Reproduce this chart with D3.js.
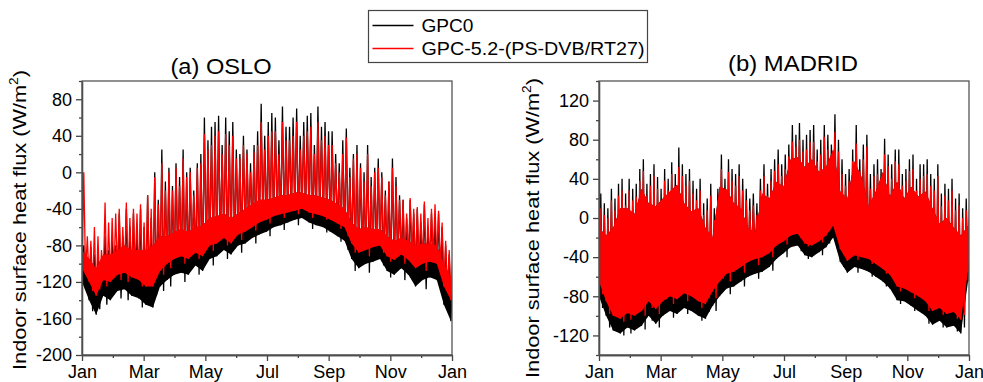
<!DOCTYPE html>
<html>
<head>
<meta charset="utf-8">
<script src="https://cdn.jsdelivr.net/npm/d3@7"></script>
<style>
  body { margin: 0; background: #fff; }
  text { font-family: Arial, "Liberation Sans", sans-serif; fill: #000; }
</style>
</head>
<body>
<script>
// weekly samples (hour 0, 168, 336 ...):
// Lo / Lo2 = troughs, Band = top of the dense band, Hi / Hi2 = the two largest spikes of the week
const monthLabels = ['Jan', 'Mar', 'May', 'Jul', 'Sep', 'Nov', 'Jan'];
const seriesNames = ['GPC0', 'GPC-5.2-(PS-DVB/RT27)'];

const osloGpc0Lo = [-120, -140, -156, -135, -140, -130, -128, -135, -138, -145, -148, -125, -118, -112, -110, -112, -102, -108, -95, -92, -85, -90, -80, -78, -72, -68, -65, -60, -58, -55, -52, -50, -55, -58, -60, -65, -70, -75, -95, -105, -100, -98, -95, -108, -112, -105, -112, -125, -118, -115, -118, -145, -163];
const osloGpc0Lo2 = [-128, -152, -150, -145, -132, -138, -140, -128, -148, -140, -135, -130, -125, -105, -120, -105, -112, -100, -102, -85, -95, -84, -88, -72, -78, -64, -70, -56, -63, -52, -58, -48, -62, -52, -66, -60, -76, -85, -108, -100, -110, -92, -102, -115, -105, -118, -110, -120, -128, -110, -125, -150, -160];
const osloGpc0Hi = [-80, -82, -88, -70, -75, -45, -40, -45, -40, -25, 0, 25, 5, 10, 25, 5, 10, 60, 50, 62, 60, 55, 20, 25, 30, 75, 55, 60, 72, 50, 70, 55, 65, 72, 55, 45, 10, 48, 20, 10, 30, 5, 0, -10, -5, -30, -30, -40, -35, -45, -45, -80, -95];
const osloGpc0Hi2 = [-95, -90, -100, -85, -80, -70, -60, -65, -60, -50, -30, -10, -15, -5, 0, -20, 20, 35, 55, 30, 45, 25, 40, 10, 45, 40, 65, 35, 50, 60, 40, 62, 30, 50, 45, 20, 35, 5, 30, 0, -5, 15, -20, 15, -25, -50, -45, -55, -60, -50, -60, -90, -110];
const osloGpcLo = [-105, -120, -135, -118, -120, -112, -110, -115, -118, -125, -125, -108, -100, -95, -92, -95, -88, -92, -80, -78, -72, -78, -68, -65, -60, -55, -52, -48, -46, -44, -42, -40, -44, -46, -48, -52, -56, -60, -78, -88, -85, -82, -80, -92, -96, -90, -96, -105, -100, -98, -100, -125, -140];
const osloGpcLo2 = [-112, -130, -128, -125, -112, -118, -120, -108, -125, -118, -115, -112, -105, -90, -100, -88, -95, -85, -86, -72, -80, -70, -74, -60, -64, -50, -56, -45, -50, -40, -46, -38, -50, -42, -52, -48, -62, -70, -88, -82, -92, -76, -88, -98, -90, -100, -94, -102, -108, -94, -106, -130, -135];
const osloGpcHi = [0, -75, -70, -33, -50, -40, -33, -40, -35, -25, -5, 10, 0, 5, 15, 0, 5, 42, 30, 45, 42, 40, 15, 20, 22, 55, 40, 45, 55, 35, 55, 40, 50, 55, 40, 30, 0, 38, 15, 5, 20, 0, -5, -10, -15, -30, -28, -38, -32, -40, -42, -75, -90];
const osloGpcHi2 = [-70, -60, -85, -55, -45, -60, -50, -45, -55, -40, -35, -20, -20, -15, -5, -25, 10, 25, 40, 20, 30, 15, 30, 0, 30, 25, 45, 20, 35, 40, 25, 45, 20, 35, 30, 10, 20, -5, 20, -10, -15, 5, -25, 5, -30, -45, -40, -45, -50, -35, -55, -85, -100];
const osloBand = [-85, -95, -105, -90, -90, -85, -80, -85, -85, -85, -80, -70, -70, -65, -62, -65, -60, -58, -50, -48, -45, -50, -45, -40, -35, -30, -30, -28, -25, -25, -22, -22, -25, -25, -28, -30, -35, -40, -55, -62, -60, -62, -62, -70, -75, -72, -75, -80, -78, -78, -80, -100, -115];

const madridGpc0Lo = [-80, -100, -115, -118, -112, -115, -110, -100, -108, -100, -95, -98, -92, -95, -100, -103, -90, -80, -72, -70, -65, -60, -57, -55, -50, -42, -36, -30, -28, -38, -40, -35, -30, -20, -45, -56, -50, -52, -55, -60, -65, -72, -84, -85, -90, -95, -100, -109, -105, -112, -110, -118, -65];
const madridGpc0Lo2 = [-92, -112, -108, -120, -118, -108, -114, -105, -112, -96, -102, -92, -98, -88, -105, -96, -95, -75, -78, -64, -70, -55, -62, -50, -54, -38, -40, -25, -34, -42, -34, -38, -26, -30, -50, -50, -56, -48, -60, -56, -70, -68, -88, -80, -95, -90, -108, -102, -112, -106, -116, -112, -90];
const madridGpc0Hi = [25, 10, 20, 40, 40, 35, 60, 45, 42, 50, 57, 72, 45, 38, 40, 20, 10, 65, 60, 45, 40, 20, 15, 55, 50, 70, 65, 95, 97, 85, 95, 80, 85, 106, 60, 50, 95, 75, 45, 60, 81, 55, 70, 50, 65, 55, 60, 40, 25, 30, 20, 10, 25];
const madridGpc0Hi2 = [15, 30, 35, 25, 30, 50, 35, 55, 30, 40, 45, 55, 50, 30, 15, 35, 30, 40, 50, 55, 30, 25, 40, 35, 60, 55, 75, 85, 80, 90, 70, 95, 75, 80, 45, 70, 60, 85, 55, 50, 65, 70, 45, 60, 40, 55, 45, 55, 35, 40, 25, 20, 15];
const madridGpcLo = [-65, -85, -100, -103, -97, -100, -95, -85, -93, -85, -80, -83, -77, -80, -85, -88, -75, -65, -57, -55, -50, -45, -42, -40, -36, -28, -24, -18, -16, -26, -28, -24, -18, -8, -32, -44, -38, -40, -42, -47, -52, -58, -70, -72, -76, -80, -85, -95, -92, -98, -96, -104, -55];
const madridGpcLo2 = [-78, -98, -95, -106, -104, -95, -100, -92, -98, -83, -88, -78, -85, -75, -92, -82, -82, -62, -65, -50, -56, -42, -48, -37, -40, -25, -27, -12, -21, -29, -21, -25, -13, -17, -37, -37, -43, -35, -47, -43, -57, -55, -75, -67, -82, -77, -95, -89, -99, -93, -103, -99, -77];
const madridGpcHi = [10, 0, 8, 28, 28, 22, 48, 33, 30, 38, 45, 52, 33, 25, 28, 8, -2, 50, 47, 33, 28, 8, 3, 43, 38, 55, 50, 78, 80, 70, 78, 65, 70, 88, 45, 38, 76, 60, 30, 45, 65, 40, 55, 38, 50, 40, 45, 28, 12, 18, 8, 0, 10];
const madridGpcHi2 = [3, 18, 23, 13, 18, 38, 23, 43, 18, 28, 33, 43, 38, 18, 3, 23, 18, 28, 38, 43, 18, 13, 28, 23, 48, 43, 63, 73, 68, 78, 58, 83, 63, 68, 33, 58, 48, 73, 43, 38, 53, 58, 33, 48, 28, 43, 33, 43, 23, 28, 13, 8, 3];
const madridBand = [-10, -18, -10, 10, 10, 4, 30, 15, 12, 20, 27, 34, 15, 7, 10, -10, -20, 32, 29, 15, 10, -10, -15, 25, 20, 37, 32, 60, 62, 52, 60, 47, 52, 70, 27, 20, 58, 42, 12, 27, 47, 22, 37, 20, 32, 22, 27, 10, -6, 0, -10, -18, -8];

const weekHours = 168;
const yearHours = 8760;
const colors = ['#000000', '#ff0000'];

const svg = d3.select('body')
  .append('svg')
  .attr('width', 983)
  .attr('height', 382);

const panels = [
  {
    id: 'oslo', left: 82, top: 81, width: 370, height: 274,
    domain: [-200, 100], step: 40, first: -200,
    title: '(a) OSLO', titleX: 221, titleY: 74, titleLen: 101,
    labelX: 26, labelY: 220,
    band: osloBand,
    series: [
      [osloGpc0Lo, osloGpc0Lo2, osloGpc0Hi, osloGpc0Hi2],
      [osloGpcLo, osloGpcLo2, osloGpcHi, osloGpcHi2],
    ],
  },
  {
    id: 'madrid', left: 599, top: 81, width: 370, height: 274,
    domain: [-140, 140], step: 40, first: -120,
    title: '(b) MADRID', titleX: 793, titleY: 71, titleLen: 130,
    labelX: 539, labelY: 228,
    band: madridBand,
    series: [
      [madridGpc0Lo, madridGpc0Lo2, madridGpc0Hi, madridGpc0Hi2],
      [madridGpcLo, madridGpcLo2, madridGpcHi, madridGpcHi2],
    ],
  },
];

const styleAxis = sel => {
  sel.selectAll('path').attr('stroke', '#444').attr('stroke-width', 1.3);
  sel.selectAll('line').attr('stroke', '#444').attr('stroke-width', 1.3);
  sel.selectAll('text').style('font-size', '18px').attr('fill', '#000');
};

panels.forEach(p => {
  const x = d3.scaleLinear().domain([0, yearHours]).range([0, p.width]);
  const y = d3.scaleLinear().domain(p.domain).range([p.height, 0]);

  const g = svg.append('g').attr('transform', `translate(${p.left},${p.top})`);

  g.append('clipPath').attr('id', `clip-${p.id}`)
    .append('rect').attr('width', p.width).attr('height', p.height);

  const plot = g.append('g').attr('clip-path', `url(#clip-${p.id})`);

  const area = d3.area()
    .x((d, i) => x(i * weekHours))
    .y0(d => y(d[0]))
    .y1(d => y(d[1]));

  const line = d3.line()
    .x(d => x(d[0]))
    .y(d => y(d[1]));

  p.series.forEach(([lo, lo2, hi, hi2], k) => {
    plot.append('path')
      .attr('d', area(lo.map((v, i) => [v, p.band[i]])))
      .attr('fill', colors[k]);
    // trough -> spike -> second trough -> second spike -> next trough
    const q = weekHours / 4;
    const pts = lo.flatMap((v, i) => [
      [i * weekHours, v],
      [i * weekHours + q, hi[i]],
      [i * weekHours + 2 * q, lo2[i]],
      [i * weekHours + 3 * q, hi2[i]],
    ]);
    plot.append('path')
      .attr('d', line(pts))
      .attr('fill', 'none')
      .attr('stroke', colors[k])
      .attr('stroke-width', 1.3);
  });

  // axes
  const xMajor = d3.range(0, yearHours + 1, yearHours / 6);
  const xMinor = d3.range(yearHours / 12, yearHours, yearHours / 6);
  const yMajor = d3.range(p.first, p.domain[1] + 1, p.step);
  const yMinor = d3.range(p.domain[0], p.domain[1] + 1, p.step / 2).filter(v => !yMajor.includes(v));

  g.append('g')
    .attr('transform', `translate(0,${p.height})`)
    .call(d3.axisBottom(x).tickValues(xMinor).tickFormat('').tickSize(3).tickSizeOuter(0))
    .call(styleAxis);

  g.append('g')
    .attr('transform', `translate(0,${p.height})`)
    .call(d3.axisBottom(x).tickValues(xMajor).tickFormat((d, i) => monthLabels[i]).tickSize(6).tickSizeOuter(0).tickPadding(4))
    .call(styleAxis);

  g.append('g')
    .call(d3.axisLeft(y).tickValues(yMinor).tickFormat('').tickSize(3).tickSizeOuter(0))
    .call(styleAxis);

  g.append('g')
    .call(d3.axisLeft(y).tickValues(yMajor).tickFormat(d => String(d)).tickSize(6).tickSizeOuter(0).tickPadding(4))
    .call(styleAxis);

  g.append('rect')
    .attr('width', p.width)
    .attr('height', p.height)
    .attr('fill', 'none')
    .attr('stroke', '#555')
    .attr('stroke-width', 1.3);

  svg.append('text')
    .attr('x', p.titleX)
    .attr('y', p.titleY)
    .attr('text-anchor', 'middle')
    .attr('textLength', p.titleLen)
    .attr('lengthAdjust', 'spacingAndGlyphs')
    .style('font-size', '22px')
    .text(p.title);

  const label = svg.append('text')
    .attr('transform', `translate(${p.labelX},${p.labelY}) rotate(-90)`)
    .attr('text-anchor', 'middle')
    .attr('textLength', 300)
    .attr('lengthAdjust', 'spacingAndGlyphs')
    .style('font-size', '19px');
  label.append('tspan').text('Indoor surface heat flux (W/m');
  label.append('tspan').attr('dy', -8).style('font-size', '12px').text('2');
  label.append('tspan').attr('dy', 8).text(')');
});

// legend
const legend = svg.append('g');
legend.append('rect')
  .attr('x', 368.5).attr('y', 10.5)
  .attr('width', 279).attr('height', 52)
  .attr('fill', '#fff')
  .attr('stroke', '#444')
  .attr('stroke-width', 1.2);

const legendLens = [52, 223];
seriesNames.forEach((name, i) => {
  const ly = 25.5 + i * 23;
  legend.append('line')
    .attr('x1', 372.5).attr('x2', 413.5)
    .attr('y1', ly).attr('y2', ly)
    .attr('stroke', colors[i])
    .attr('stroke-width', 1.5);
  legend.append('text')
    .attr('x', 421.5)
    .attr('y', ly + 6.5)
    .attr('textLength', legendLens[i])
    .attr('lengthAdjust', 'spacingAndGlyphs')
    .style('font-size', '18px')
    .text(name);
});
</script>
</body>
</html>
